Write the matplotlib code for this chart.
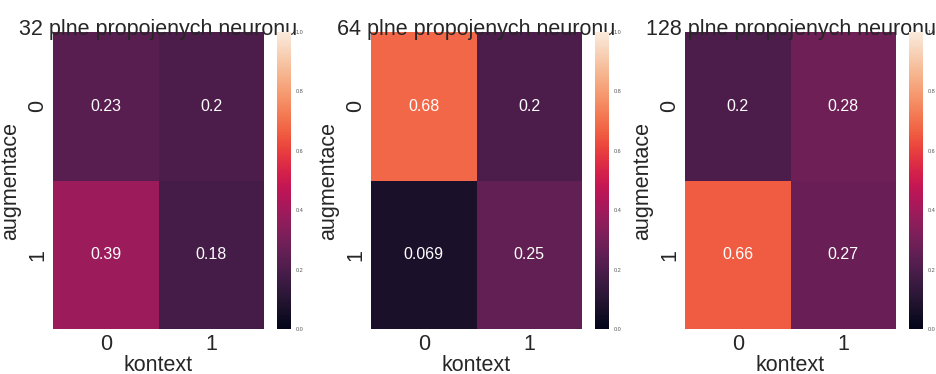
import numpy as np
import matplotlib
matplotlib.use("Agg")
import matplotlib.pyplot as plt
import seaborn as sns

sns.set_style("whitegrid")
plt.rcParams['font.family'] = ['Liberation Sans', 'DejaVu Sans']

titles = ["32 plne propojenych neuronu", "64 plne propojenych neuronu", "128 plne propojenych neuronu"]
kontext = ["0", "1"]
augmentace = ["0", "1"]
acc_32 = [[0.23, 0.2], [0.39, 0.18]]
acc_64 = [[0.68, 0.2], [0.069, 0.25]]
acc_128 = [[0.2, 0.28], [0.66, 0.27]]

W, H = 936, 374
fig = plt.figure(figsize=(W / 100, H / 100), dpi=100)

lefts = [53, 371, 685]
for left, title, vals in zip(lefts, titles, [acc_32, acc_64, acc_128]):
    ax = fig.add_axes([left / W, 45 / H, 211 / W, 297 / H])
    cax = fig.add_axes([(left + 224) / W, 45 / H, 14 / W, 297 / H])
    sns.heatmap(np.array(vals), ax=ax, cbar_ax=cax, vmin=0, vmax=1,
                annot=True, annot_kws={"size": 11.5}, cmap="rocket",
                xticklabels=kontext, yticklabels=augmentace)
    ax.set_title(title, fontsize=15.5, pad=-2, color="#262626")
    ax.set_xlabel("kontext", fontsize=15.5, color="#262626", labelpad=0)
    ax.set_ylabel("augmentace", fontsize=15.5, color="#262626")
    ax.tick_params(axis="both", labelsize=15.5, length=0, colors="#262626")
    plt.setp(ax.get_yticklabels(), rotation=90, va="center")
    cax.tick_params(labelsize=4, length=0, colors="#555555")
    cax.set_yticks([0, 0.2, 0.4, 0.6, 0.8, 1.0])
    cax.set_yticklabels(["0.0", "0.2", "0.4", "0.6", "0.8", "1.0"])

fig.savefig("out.png", dpi=100)
